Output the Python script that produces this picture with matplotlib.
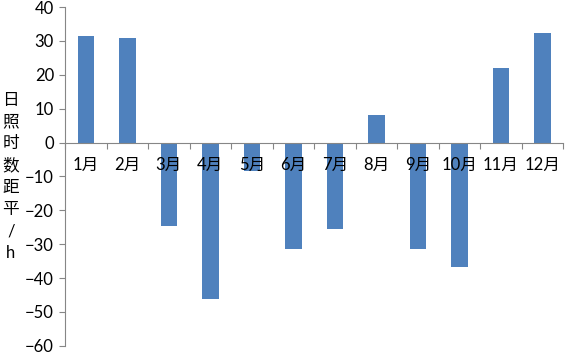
import matplotlib.pyplot as plt
import numpy as np

# monthly sunshine-hour anomaly (h)
months = ['1月', '2月', '3月', '4月', '5月', '6月', '7月', '8月', '9月', '10月', '11月', '12月']
anomaly = [31.4, 31.0, -24.5, -46.3, -8.5, -31.5, -25.4, 8.2, -31.5, -36.6, 21.9, 32.5]

plt.rcParams['font.family'] = ['Lato', 'Noto Sans CJK SC', 'DejaVu Sans']

fig = plt.figure(figsize=(5.66, 3.55), dpi=100)
ax = fig.add_axes([0.115, 0.026, 0.88, 0.954])

x = np.arange(len(months))
ax.bar(x, anomaly, width=0.4, color='#4F81BD', zorder=1)

ax.set_xlim(-0.5, len(months) - 0.5)
ax.set_ylim(-60, 40)
ax.set_yticks(range(-60, 41, 10))

# category ticks between bars, labels at bar centres
ax.set_xticks(np.arange(-0.5, len(months), 1.0))
ax.set_xticklabels([])
ax.set_xticks(x, minor=True)
ax.set_xticklabels(months, minor=True)

gray = '#868686'
for s in ['top', 'right']:
    ax.spines[s].set_visible(False)
ax.spines['bottom'].set_position(('data', 0))
ax.spines['bottom'].set_color(gray)
ax.spines['left'].set_color(gray)
ax.tick_params(axis='x', which='major', direction='out', length=4, color=gray)
ax.tick_params(axis='x', which='minor', length=0, pad=10, labelsize=12)
ax.tick_params(axis='y', direction='out', length=4, color=gray, labelsize=12, pad=4)

fig.text(0.019, 0.503, '\n'.join('日照时数距平/h'), ha='center', va='center',
         fontsize=12, linespacing=1.46)

plt.savefig('out.png', dpi=100)
